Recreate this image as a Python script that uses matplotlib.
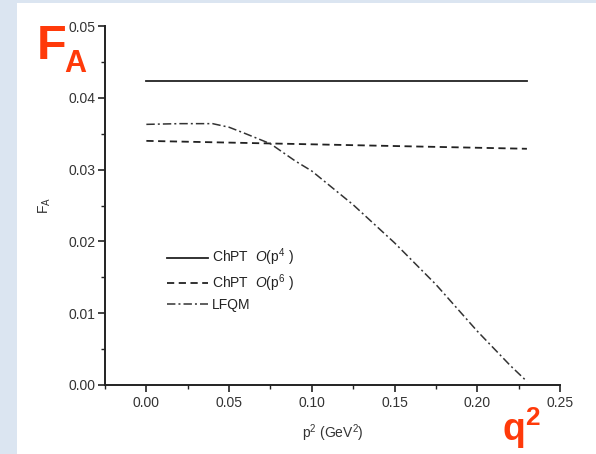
import matplotlib
matplotlib.use('Agg')
import matplotlib.pyplot as plt
from matplotlib.patches import Rectangle
from matplotlib.ticker import MultipleLocator

plt.rcParams['font.family'] = ['Liberation Sans', 'DejaVu Sans']
plt.rcParams['mathtext.fontset'] = 'custom'
plt.rcParams['mathtext.rm'] = 'Liberation Sans'
plt.rcParams['mathtext.it'] = 'Liberation Sans:italic'
plt.rcParams['mathtext.bf'] = 'Liberation Sans:bold'

# data
q2_flat = [0.0, 0.23]
fa_p4 = [0.0424, 0.0424]
fa_p6 = [0.0340, 0.0329]

q2_lfqm = [0.0, 0.02, 0.04, 0.05, 0.06, 0.075, 0.09, 0.10, 0.125, 0.15, 0.175, 0.20, 0.22, 0.23]
fa_lfqm = [0.0363, 0.0364, 0.0364, 0.0359, 0.0350, 0.0336, 0.0312, 0.0298, 0.0251, 0.0198, 0.0140, 0.0075, 0.0027, 0.0005]

labels = [r'ChPT  $\mathit{O}$(p$^{4}$ )', r'ChPT  $\mathit{O}$(p$^{6}$ )', 'LFQM']

fig = plt.figure(figsize=(5.96, 4.54), dpi=100, facecolor='#dbe5f1')
# white slide area
fig.patches.append(Rectangle((17 / 596, 0), 1, 451 / 454, transform=fig.transFigure,
                             facecolor='white', edgecolor='none', zorder=-10))

ax = fig.add_axes([105 / 596, 69 / 454, 455 / 596, 359 / 454])
ax.set_facecolor('none')
ax.set_zorder(2)

ax.plot(q2_flat, fa_p4, color='#222222', lw=1.3, ls='-', label=labels[0])
ax.plot(q2_flat, fa_p6, color='#222222', lw=1.3, ls=(0, (4, 2.5)), label=labels[1])
ax.plot(q2_lfqm, fa_lfqm, color='#333333', lw=1.1, ls=(0, (5.5, 2, 1.3, 2)), label=labels[2])

ax.set_xlim(-0.025, 0.25)
ax.set_ylim(0, 0.05)
ax.xaxis.set_major_locator(MultipleLocator(0.05))
ax.xaxis.set_minor_locator(MultipleLocator(0.025))
ax.yaxis.set_major_locator(MultipleLocator(0.01))
ax.yaxis.set_minor_locator(MultipleLocator(0.005))
ax.xaxis.set_major_formatter(plt.FuncFormatter(lambda v, p: f'{v:.2f}'))
ax.yaxis.set_major_formatter(plt.FuncFormatter(lambda v, p: f'{v:.2f}'))

for s in ['top', 'right']:
    ax.spines[s].set_visible(False)
for s in ['left', 'bottom']:
    ax.spines[s].set_linewidth(1.4)
    ax.spines[s].set_color('#222222')
ax.tick_params(which='major', direction='out', length=5, width=1.2, labelsize=10,
               labelcolor='#333333', color='#222222', pad=2)
ax.tick_params(axis='x', which='major', pad=3)
ax.tick_params(which='minor', direction='out', length=3, width=1.0, color='#222222')

ax.set_xlabel(r'p$^{2}$ (GeV$^{2}$)', fontsize=10, color='#333333', labelpad=9)
ax.set_ylabel(r'F$_{\mathrm{A}}$', fontsize=10, color='#333333', labelpad=11)

ax.legend(loc='upper left', bbox_to_anchor=(0.136, 0.385), frameon=False, fontsize=10,
          borderpad=0, borderaxespad=0,
          handlelength=2.95, handletextpad=0.3, labelspacing=0.3, labelcolor='#222222')

red = '#ff3a0a'
fig.text(37 / 596, 1 - 59 / 454, 'F', color=red, fontsize=35, fontweight='bold')
fig.text(64 / 596, 1 - 72 / 454, 'A', color=red, fontsize=22, fontweight='bold')
fig.text(502 / 596, 1 - 441 / 454, r'q$^{\mathbf{2}}$', color=red, fontsize=27, fontweight='bold')

fig.savefig('out.png', dpi=100)
